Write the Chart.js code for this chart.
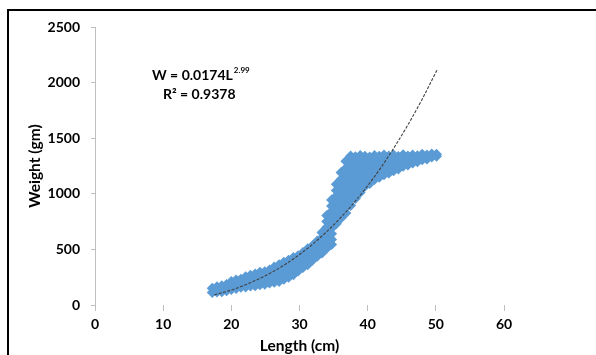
<!DOCTYPE html>
<html><head><meta charset="utf-8">
<script src="https://cdn.jsdelivr.net/npm/chart.js@4/dist/chart.umd.min.js"></script>
<style>
html,body{margin:0;padding:0;background:#fff;width:596px;height:355px;overflow:hidden;}
#wrap{position:absolute;left:0;top:0;width:596px;height:355px;}
#frame{position:absolute;left:7px;top:9px;width:620px;height:400px;border:2px solid #000;pointer-events:none;}
</style></head><body>
<div id="wrap"><canvas id="c" width="596" height="355"></canvas></div>
<div id="frame"></div>
<script>
// ---- data ----
const xTickValues = [0, 10, 20, 30, 40, 50, 60];
const yTickValues = [0, 500, 1000, 1500, 2000, 2500];
const xTitle = 'Length (cm)';
const yTitle = 'Weight (gm)';

// observed points: each length column with the weights seen in that column
const bandLengths = [17.2, 17.9, 18.6, 19.3, 20.0, 20.7, 21.4, 22.1, 22.8, 23.5, 24.2, 24.9, 25.6, 26.3, 27.0, 27.7,
  28.4, 29.1, 29.8, 30.5, 31.2, 31.9, 32.6, 33.3, 34.0, 34.7, 35.4, 36.1, 36.8, 37.5, 38.2, 38.9, 39.6, 40.3,
  41.0, 41.7, 42.4, 43.1, 43.8, 44.5, 45.2, 45.9, 46.6, 47.3, 48.0, 48.7, 49.4, 50.1];
const bandWeights = [
  [112,150], [118,165], [120,172], [128,185], [140,190,212], [148,195,225], [160,205,232], [162,210,255],
  [170,220,268], [172,230,278], [182,235,295], [186,240,298], [198,250,315], [205,260,320,342],
  [212,270,325,362], [232,285,340,385], [250,305,360,402], [272,330,385,428], [305,355,405,442],
  [338,385,435,472], [362,410,460,505], [402,445,490,532], [438,480,525,575], [468,515,560,605,652],
  [510,555,600,650,700,750,805], [545,590,640,690,740,790,840,890,945],
  [730,780,830,880,930,980,1030,1085], [782,830,880,930,980,1030,1080,1130,1192],
  [828,880,930,980,1030,1080,1130,1180,1230,1292], [895,945,995,1045,1095,1145,1195,1245,1295,1340],
  [958,1005,1055,1105,1155,1205,1255,1300,1333], [1012,1065,1115,1165,1215,1265,1305,1345],
  [1068,1110,1160,1210,1260,1300,1338], [1092,1140,1185,1230,1275,1310,1330],
  [1128,1170,1215,1260,1300,1345], [1148,1195,1240,1285,1320,1338], [1172,1215,1260,1300,1348],
  [1188,1235,1280,1315,1340], [1208,1250,1295,1350], [1222,1270,1310,1336], [1248,1290,1325,1352],
  [1258,1300,1340], [1278,1315,1348], [1288,1325,1342], [1306,1340,1356], [1312,1350], [1332,1358], [1338,1356]
];

// power trendline as drawn in the reference
const trendLengths = [17.5, 20, 22, 24, 26, 28, 30, 32, 34, 36, 38, 40, 42, 44, 46, 48, 50.2];
const trendWeights = [91, 135, 180, 233, 296, 369, 454, 551, 660, 783, 920, 1073, 1241, 1427, 1630, 1851, 2117];

const eqMain = 'W = 0.0174L';
const eqExponent = '2.99';
const eqR2 = 'R\u00B2 = 0.9378';

// ---- build tables for the library ----
const scatterData = [];
bandLengths.forEach((L, i) => bandWeights[i].forEach(w => scatterData.push({x: L, y: w})));
const trendData = trendLengths.map((L, i) => ({x: L, y: trendWeights[i]}));

const FONT = 'Lato, "Open Sans", sans-serif';
const axisGray = '#BFBFBF';

const equationPlugin = {
  id: 'equation',
  afterDatasetsDraw(chart) {
    const ctx = chart.ctx;
    const a = chart.chartArea;
    ctx.save();
    ctx.fillStyle = '#000';
    ctx.textBaseline = 'middle';
    ctx.textAlign = 'left';
    ctx.font = 'bold 14px ' + FONT;
    const x0 = a.left + 57, y0 = a.top + 48;
    ctx.fillText(eqMain, x0, y0);
    const w = ctx.measureText(eqMain).width;
    ctx.font = 'bold 8px ' + FONT;
    ctx.fillText(eqExponent, x0 + w + 1, y0 - 5);
    ctx.font = 'bold 14px ' + FONT;
    ctx.fillText(eqR2, x0 + 11, y0 + 19);
    ctx.restore();
  }
};

new Chart(document.getElementById('c'), {
  type: 'scatter',
  data: {
    datasets: [
      {
        label: 'Trend',
        type: 'line',
        data: trendData,
        borderColor: '#404040',
        borderWidth: 1.1,
        borderDash: [3, 1.5],
        pointRadius: 0,
        fill: false,
        cubicInterpolationMode: 'monotone',
        order: 1
      },
      {
        label: 'Observed',
        data: scatterData,
        pointStyle: 'rectRot',
        pointRadius: 5.5,
        pointHoverRadius: 5.5,
        backgroundColor: '#5B9BD5',
        borderWidth: 0,
        order: 2
      }
    ]
  },
  options: {
    responsive: false,
    animation: false,
    events: [],
    layout: { padding: { left: 26, top: 27, right: 92, bottom: 0 } },
    plugins: { legend: { display: false }, tooltip: { enabled: false } },
    scales: {
      x: {
        type: 'linear',
        min: xTickValues[0],
        max: xTickValues[xTickValues.length - 1],
        afterBuildTicks(s) { s.ticks = xTickValues.map(v => ({value: v})); },
        afterFit(s) { s.height = 50; },
        border: { display: false },
        grid: { drawOnChartArea: false, drawTicks: true, tickLength: 6, color: axisGray },
        ticks: { padding: 5, color: '#000', font: { family: FONT, size: 14, weight: 'bold' }, callback: v => String(v) },
        title: { display: true, text: xTitle, color: '#000', padding: 0, font: { family: FONT, size: 15.5, weight: 'bold' } }
      },
      y: {
        type: 'linear',
        min: yTickValues[0],
        max: yTickValues[yTickValues.length - 1],
        afterBuildTicks(s) { s.ticks = yTickValues.map(v => ({value: v})); },
        afterFit(s) { s.width = 69; },
        border: { display: true, color: axisGray, width: 1 },
        grid: { drawOnChartArea: false, drawTicks: true, tickLength: 4, color: axisGray },
        ticks: { padding: 11, color: '#000', font: { family: FONT, size: 14, weight: 'bold' }, callback: v => String(v) },
        title: { display: true, text: yTitle, color: '#000', padding: 0, font: { family: FONT, size: 15.5, weight: 'bold' } }
      }
    }
  },
  plugins: [equationPlugin]
});
</script>
</body></html>
